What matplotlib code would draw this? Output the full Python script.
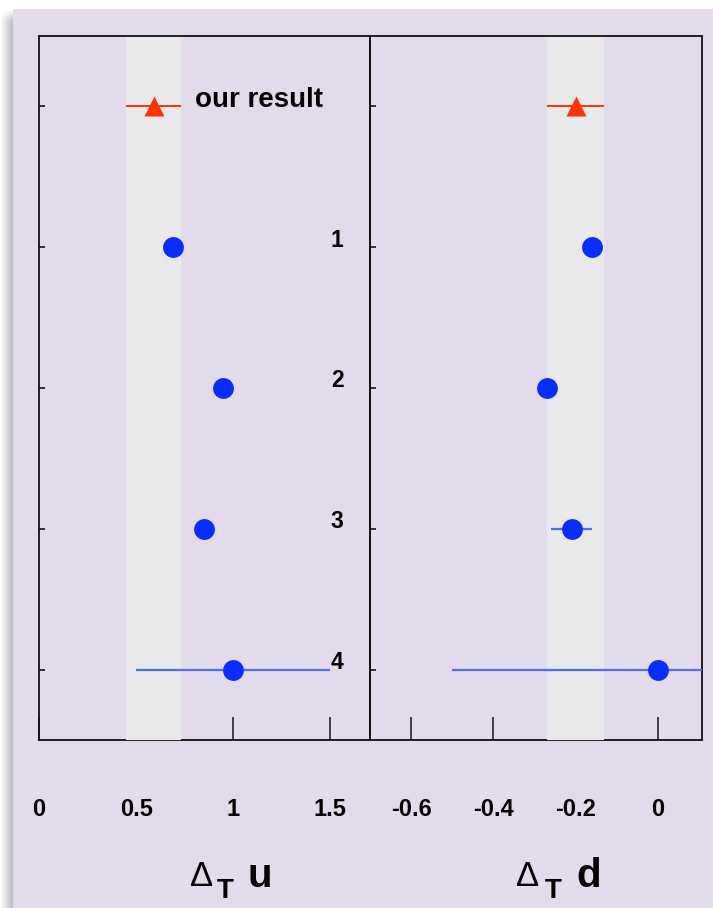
import numpy as np
import matplotlib
matplotlib.use("Agg")
import matplotlib.pyplot as plt
from matplotlib.patches import Rectangle

# ---- data -------------------------------------------------------------
rows = ["our result", "1", "2", "3", "4"]
delta_u = [0.59, 0.69, 0.95, 0.85, 1.00]
delta_u_err = [0.14, 0.0, 0.0, 0.0, 0.50]
delta_d = [-0.20, -0.16, -0.27, -0.21, 0.00]
delta_d_err = [0.07, 0.0, 0.0, 0.05, 0.50]

u_ticks = [0, 0.5, 1, 1.5]
u_ticklabels = ["0", "0.5", "1", "1.5"]
d_ticks = [-0.6, -0.4, -0.2, 0]
d_ticklabels = ["-0.6", "-0.4", "-0.2", "0"]

# ---- style ------------------------------------------------------------
W, H = 713, 908
DPI = 100
LAVENDER = "#e3dbec"
BAND = "#e9e8ea"
BLUE = "#0a2dff"
BLUE_LINE = "#4d6bff"
RED = "#ff3300"
FONT = "Liberation Sans"

plt.rcParams["font.family"] = [FONT, "DejaVu Sans"]

fig = plt.figure(figsize=(W / DPI, H / DPI), dpi=DPI, facecolor="white")


def fx(px):
    return px / W


def fy(py):
    return 1 - py / H


# page background with a soft drop shadow on the left edge
bg = fig.add_axes([0, 0, 1, 1], zorder=-10)
bg.axis("off")
grad = np.linspace(1.0, 0.74, 13)[None, :]
shade = np.ones((H - 9, 13)) * grad
fade = np.clip(np.arange(H - 9) / 12.0, 0, 1)[:, None]
shade = 1 - (1 - shade) * fade
bg.imshow(shade, cmap="gray", vmin=0, vmax=1, extent=(0, 13, H, 9),
          aspect="auto", interpolation="bilinear")
bg.add_patch(Rectangle((13, 9), W - 13, H - 9, facecolor=LAVENDER,
                       edgecolor="none"))
bg.set_xlim(0, W)
bg.set_ylim(H, 0)

top_px, bot_px = 36, 740
ax_u = fig.add_axes([fx(39), fy(bot_px), fx(370 - 39), (bot_px - top_px) / H])
ax_d = fig.add_axes([fx(370), fy(bot_px), fx(702 - 370), (bot_px - top_px) / H])

ypos = np.arange(len(rows))


def draw_panel(ax, vals, errs, xlim, ticks, ticklabels):
    ax.set_facecolor("none")
    ax.set_xlim(*xlim)
    ax.set_ylim(len(rows) - 0.5, -0.5)

    # band spanning our result's uncertainty
    ax.axvspan(vals[0] - errs[0], vals[0] + errs[0], color=BAND, zorder=2,
               lw=0)

    # literature values
    for y, v, e in zip(ypos[1:], vals[1:], errs[1:]):
        if e > 0:
            ax.plot([v - e, v + e], [y, y], color=BLUE_LINE, lw=1.6,
                    zorder=3, solid_capstyle="butt")
        ax.plot(v, y, "o", ms=15, color=BLUE, mec="none", zorder=4)

    # our result
    ax.plot([vals[0] - errs[0], vals[0] + errs[0]], [0, 0], color=RED,
            lw=1.4, zorder=3, solid_capstyle="butt")
    ax.plot(vals[0], 0, "^", ms=15, color=RED, mec="none", zorder=4)

    ax.set_xticks(ticks)
    ax.set_xticklabels(ticklabels)
    ax.set_yticks(ypos)
    ax.set_yticklabels([])
    ax.tick_params(axis="x", direction="in", length=16.5, width=1.3,
                   color="#333333", pad=42, labelsize=17)
    ax.tick_params(axis="y", direction="in", length=4.5, width=1.3,
                   color="#222222", right=False)
    for lab in ax.get_xticklabels():
        lab.set_fontweight("bold")
    for side, sp in ax.spines.items():
        sp.set_linewidth(1.3)
        sp.set_color("#111111")
    ax.spines["bottom"].set_zorder(1.9)


draw_panel(ax_u, delta_u, delta_u_err, (0, 1.705), u_ticks, u_ticklabels)
draw_panel(ax_d, delta_d, delta_d_err, (-0.70, 0.107), d_ticks, d_ticklabels)

# row annotations
ax_u.text(0.804, -0.045, rows[0], fontsize=20, fontweight="bold",
          ha="left", va="center", zorder=5)
for y, lab in zip(ypos[1:], rows[1:]):
    ax_u.text(1.536, y - 0.05, lab, fontsize=16.5, fontweight="bold",
              ha="center", va="center", zorder=5)


# axis titles: Delta with subscript T
def delta_label(x_delta, x_T, x_var, var):
    fig.text(fx(x_delta), fy(886), "\u0394", fontsize=25, fontweight="normal",
             ha="left", va="baseline")
    fig.text(fx(x_T), fy(898), "T", fontsize=20, fontweight="bold",
             ha="left", va="baseline")
    fig.text(fx(x_var), fy(887), var, fontsize=29, fontweight="bold",
             ha="left", va="baseline")


delta_label(190, 217, 248, "u")
delta_label(516, 545, 576, "d")

fig.savefig("out.png", dpi=DPI, facecolor="white")
